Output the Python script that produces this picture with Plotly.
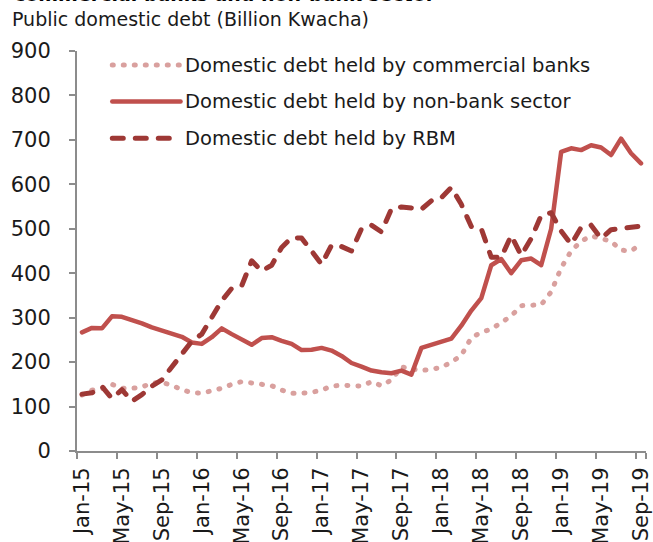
import pandas as pd
import plotly.graph_objects as go

# Monthly categories Jan-15 .. Sep-19
months = pd.date_range("2015-01-01", "2019-09-01", freq="MS").strftime("%b-%y").tolist()
tick_labels = months[::4]

# Public domestic debt by holder (billion Kwacha)
commercial_banks = [
    126, 137, 140, 150, 141, 141, 144, 153, 154, 148, 138, 131, 130, 136, 141, 150,
    156, 153, 150, 147, 137, 130, 130, 132, 137, 146, 148, 146, 146, 156, 147, 160,
    189, 185, 181, 184, 188, 200, 215, 255, 267, 274, 288, 304, 327, 327, 329, 358,
    412, 450, 472, 484, 479, 472, 452, 450, 466,
]
non_bank_sector = [
    267, 277, 276, 303, 302, 295, 287, 278, 271, 262, 257, 244, 241, 256, 276, 263,
    252, 239, 254, 256, 248, 241, 227, 228, 232, 226, 214, 198, 190, 181, 177, 175,
    181, 172, 232, 239, 246, 253, 282, 316, 344, 418, 432, 400, 429, 433, 418, 500,
    673, 681, 677, 688, 683, 666, 703, 670, 647,
]
rbm = [
    128, 131, 145, 118, 138, 112, 127, 146, 160, 190, 216, 247, 263, 300, 338, 366,
    372, 428, 405, 418, 458, 480, 479, 450, 420, 463, 460, 450, 500, 508, 493, 545,
    549, 547, 544, 563, 570, 593, 555, 505, 500, 436, 436, 485, 440, 478, 530, 536,
    495, 465, 503, 508, 478, 498, 500, 502, 506,
]

series_names = [
    "Domestic debt held by commercial banks",
    "Domestic debt held by non-bank sector",
    "Domestic debt held by RBM",
]
colors = ["#D9A09E", "#C0504D", "#9E3835"]
widths = [5, 4.5, 5]
dashes = ["1px,10px", "solid", "11px,12px"]
values = [commercial_banks, non_bank_sector, rbm]

FONT = "DejaVu Sans"
TEXT = "#1a1a1a"
AXIS = "#8c8c8c"

fig = go.Figure()
for name, ys, c, w, d in zip(series_names, values, colors, widths, dashes):
    fig.add_trace(go.Scatter(
        x=months, y=ys, name=name, mode="lines",
        line=dict(color=c, width=w, dash=d),
        showlegend=False, hoverinfo="skip",
    ))

# Legend drawn as sample strokes plus labels
legend_rows = [0.965, 0.874, 0.782]
for name, c, w, d, yr in zip(series_names, colors, widths, dashes, legend_rows):
    fig.add_shape(type="line", xref="paper", yref="paper",
                  x0=0.062, x1=0.182, y0=yr, y1=yr,
                  line=dict(color=c, width=w, dash=d))
    fig.add_annotation(text=name, xref="paper", yref="paper", x=0.187, y=yr,
                       xanchor="left", yanchor="middle", showarrow=False,
                       font=dict(family=FONT, size=19.5, color=TEXT))

# Heading lines above the plot
fig.add_annotation(text="<b>commercial banks and non-bank sector</b>",
                   xref="paper", yref="paper", x=-0.114, y=1.142,
                   xanchor="left", yanchor="middle", showarrow=False,
                   font=dict(family=FONT, size=19, color="#000000"))
fig.add_annotation(text="Public domestic debt (Billion Kwacha)",
                   xref="paper", yref="paper", x=-0.117, y=1.08,
                   xanchor="left", yanchor="middle", showarrow=False,
                   font=dict(family=FONT, size=19, color=TEXT))

fig.update_layout(
    width=653, height=542, autosize=False,
    margin=dict(l=77, r=7, t=51, b=91),
    paper_bgcolor="white", plot_bgcolor="white",
    font=dict(family=FONT, color=TEXT),
    showlegend=False,
)
fig.update_xaxes(
    type="category", range=[-0.5, len(months) - 0.5], automargin=False,
    tickmode="array", tickvals=tick_labels, ticktext=tick_labels,
    tickangle=-90, tickson="boundaries",
    ticks="outside", ticklen=6, tickwidth=2, tickcolor=AXIS,
    showline=True, linecolor=AXIS, linewidth=2, showgrid=False,
    tickfont=dict(family=FONT, size=21, color=TEXT), ticklabelstandoff=6,
)
fig.update_yaxes(
    range=[0, 900], dtick=100, tick0=0, automargin=False,
    ticks="outside", ticklen=6, tickwidth=2, tickcolor=AXIS,
    showline=True, linecolor=AXIS, linewidth=2, showgrid=False, zeroline=False,
    tickfont=dict(family=FONT, size=21, color=TEXT), ticklabelstandoff=14,
)

round_caps = """
var gd = document.getElementById('{plot_id}');
function roundCaps() {
  gd.querySelectorAll('.scatterlayer path.js-line, .shapelayer path').forEach(function (p) {
    p.style.strokeLinecap = 'round';
    p.style.strokeLinejoin = 'round';
  });
}
roundCaps();
gd.on('plotly_afterplot', roundCaps);
"""

fig.write_html("out.html", post_script=round_caps)
